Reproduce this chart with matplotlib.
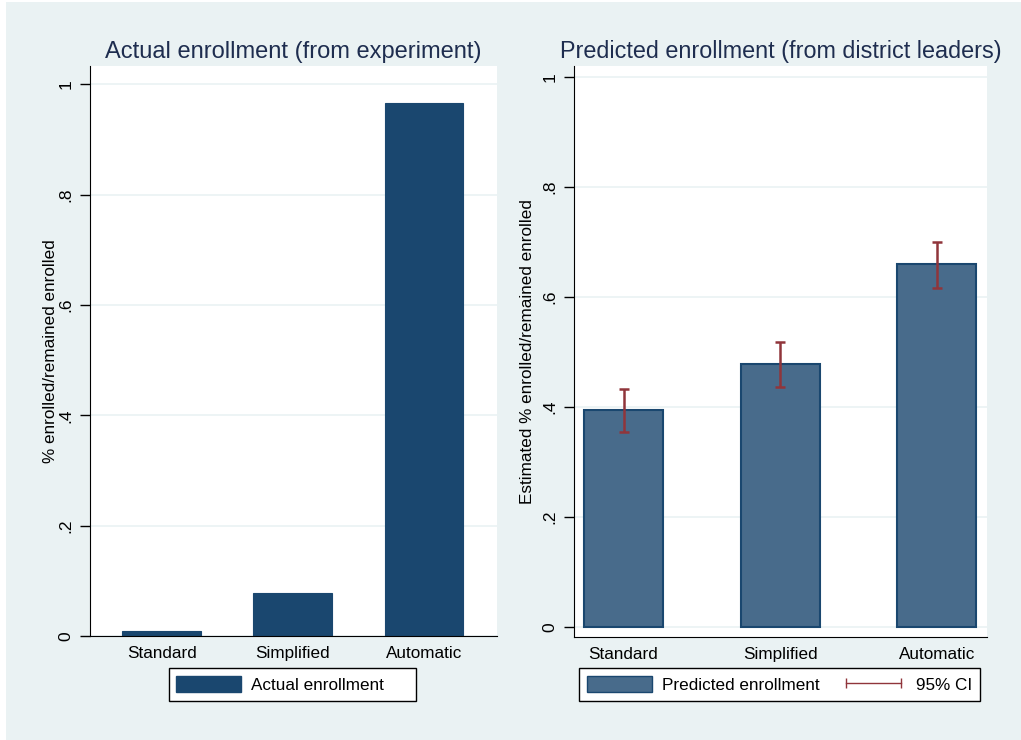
import matplotlib.pyplot as plt
from matplotlib.patches import Rectangle, Patch
from matplotlib.lines import Line2D
import numpy as np

plt.rcParams['font.family'] = ['Liberation Sans', 'DejaVu Sans']

# data
categories = ['Standard', 'Simplified', 'Automatic']
actual = [0.009, 0.078, 0.966]
predicted = [0.395, 0.478, 0.660]
ci_low = [0.355, 0.437, 0.616]
ci_high = [0.433, 0.518, 0.700]
yticks = [0, 0.2, 0.4, 0.6, 0.8, 1.0]
ytick_labels = ['0', '.2', '.4', '.6', '.8', '1']

bg = '#eaf2f3'
navy = '#1a476f'
navy_light = '#486b8b'
maroon = '#90353b'
title_col = '#1e2d4f'

W, H = 1021, 740
fig = plt.figure(figsize=(W / 100, H / 100), dpi=100, facecolor='white')
fig.patches.append(Rectangle((6 / W, 0), 1, 1 - 2 / H, transform=fig.transFigure,
                             facecolor=bg, edgecolor='none', zorder=-10))


def box(x0, y0, x1, y1):
    # pixel box (top-left origin) -> figure coords
    return [x0 / W, 1 - y1 / H, (x1 - x0) / W, (y1 - y0) / H]


def style(ax):
    ax.set_facecolor('white')
    for s in ['top', 'right']:
        ax.spines[s].set_visible(False)
    ax.spines['left'].set_color('black')
    ax.spines['bottom'].set_color('black')
    ax.set_yticks(yticks)
    ax.set_yticklabels(ytick_labels)
    ax.tick_params(axis='y', length=7, width=1, pad=5, labelsize=12.5, labelrotation=90)
    for lab in ax.get_yticklabels():
        lab.set_va('center')
    ax.tick_params(axis='x', length=0, pad=7, labelsize=12.3)
    ax.grid(axis='y', color=bg, linewidth=1.2)
    ax.set_axisbelow(True)


def legend_frame(x0, x1):
    # Stata style legend box, drawn by hand in pixel coords
    fig.patches.append(Rectangle((x0 / W, 1 - 701 / H), (x1 - x0) / W, 33 / H,
                                 transform=fig.transFigure, facecolor='white',
                                 edgecolor='black', linewidth=1.0, zorder=5))


x = np.arange(len(categories))

# left panel
ax1 = fig.add_axes(box(90, 66, 497, 636))
style(ax1)
ax1.bar(x, actual, width=0.6, color=navy, edgecolor=navy, linewidth=0.8)
ax1.set_xticks(x)
ax1.set_xticklabels(categories)
ax1.set_xlim(-0.546, 2.557)
ax1.set_ylim(0, 1.033)
ax1.set_ylabel('% enrolled/remained enrolled', fontsize=12.3)
ax1.yaxis.set_label_coords((58 - 90) / 407, 0.5)
ax1.set_title('Actual enrollment (from experiment)', fontsize=17, color=title_col, pad=6)

legend_frame(169, 416)
leg1 = fig.legend(handles=[Patch(facecolor=navy, edgecolor=navy)], labels=['Actual enrollment'],
                  loc='center left', bbox_to_anchor=(176 / W, 1 - 684.5 / H),
                  fontsize=12.3, frameon=False, borderpad=0, borderaxespad=0,
                  handlelength=3.8, handleheight=1.0, handletextpad=0.6)
leg1.set_zorder(6)

# right panel
ax2 = fig.add_axes(box(574, 66, 987, 637))
style(ax2)
ax2.bar(x, predicted, width=0.505, color=navy_light, edgecolor=navy, linewidth=1.5)
ax2.errorbar(x, predicted,
             yerr=[np.array(predicted) - np.array(ci_low), np.array(ci_high) - np.array(predicted)],
             fmt='none', ecolor=maroon, elinewidth=1.8, capsize=3.5, capthick=1.8)
ax2.set_xticks(x)
ax2.set_xticklabels(categories)
ax2.set_xlim(-0.316, 2.32)
ax2.set_ylim(-0.018, 1.02)
ax2.set_ylabel('Estimated % enrolled/remained enrolled', fontsize=12.3)
ax2.yaxis.set_label_coords((535 - 574) / 413, 0.5)
ax2.set_title('Predicted enrollment (from district leaders)', fontsize=16.8, color=title_col, pad=6)

legend_frame(579, 980)
ci_handle = Line2D([], [], color=maroon, linewidth=1.0, marker='|', markersize=7, markeredgewidth=1.0)
leg2 = fig.legend(handles=[Patch(facecolor=navy_light, edgecolor=navy), ci_handle],
                  labels=['Predicted enrollment', '95% CI'], ncol=2, numpoints=2,
                  loc='center left', bbox_to_anchor=(587 / W, 1 - 684.5 / H),
                  fontsize=12.3, frameon=False, borderpad=0, borderaxespad=0,
                  handlelength=3.8, handleheight=1.0, handletextpad=0.6,
                  columnspacing=1.25)
leg2.set_zorder(6)

fig.savefig('out.png', dpi=100, facecolor=fig.get_facecolor())
